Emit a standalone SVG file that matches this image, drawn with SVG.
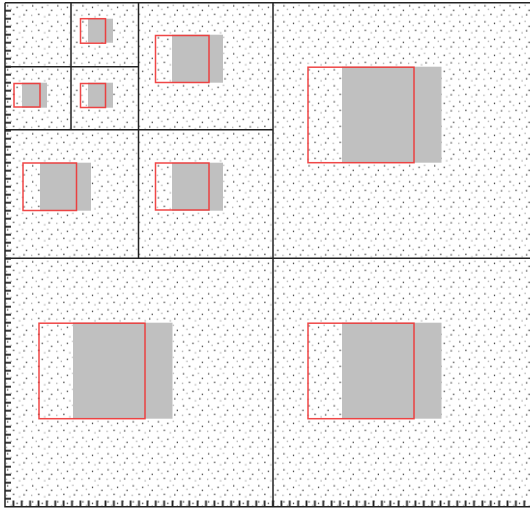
<svg xmlns="http://www.w3.org/2000/svg" width="530" height="509" viewBox="0 0 530 509">
  <style>
    .gray { fill: #c0c0c0; stroke: none; }
    .red { fill: none; stroke: #ee3333; stroke-opacity: 0.9; stroke-width: 1.5; }
    .grid { stroke: #222; stroke-width: 1.5; fill: none; }
    .dk { fill: #111; }
    .lt { fill: #999; }
  </style>
  <defs>
    <pattern id="dots" patternUnits="userSpaceOnUse" x="5" y="2.7" width="25.125" height="16">
      <rect class="dk" x="2" y="2.5" width="1.2" height="1.2"/>
      <rect class="lt" x="5.5" y="6" width="1.2" height="1.2"/>
      <rect class="dk" x="11.5" y="4" width="1.2" height="1.2"/>
      <rect class="lt" x="17" y="2" width="1.2" height="1.2"/>
      <rect class="dk" x="21" y="7" width="1.2" height="1.2"/>
      <rect class="lt" x="1" y="12" width="1.2" height="1.2"/>
      <rect class="dk" x="8" y="11" width="1.2" height="1.2"/>
      <rect class="lt" x="14" y="13.5" width="1.2" height="1.2"/>
      <rect class="dk" x="18.5" y="11.5" width="1.2" height="1.2"/>
    </pattern>
    <pattern id="lticks" patternUnits="userSpaceOnUse" x="0" y="-1.3" width="12" height="8">
      <rect x="5" y="3.1" width="6" height="1.8" fill="#222"/>
    </pattern>
    <pattern id="bticks" patternUnits="userSpaceOnUse" x="0.8125" y="0" width="8.375" height="509">
      <rect x="3.3" y="500.5" width="1.8" height="6" fill="#222"/>
    </pattern>
  </defs>

  <rect x="0" y="0" width="530" height="509" fill="#fff"/>
  <rect id="field" x="5" y="2.7" width="525" height="504" fill="url(#dots)"/>

  <g id="cell-tl-tr">
    <rect class="gray" x="88" y="18.7" width="25" height="24"/>
    <rect class="red" x="80.5" y="18.7" width="25" height="24.5"/>
  </g>
  <g id="cell-tl-bl">
    <rect class="gray" x="22" y="82.7" width="25" height="25"/>
    <rect class="red" x="14" y="83.5" width="26" height="23.5"/>
  </g>
  <g id="cell-tl-br">
    <rect class="gray" x="88" y="82.7" width="25" height="25"/>
    <rect class="red" x="80.5" y="83.5" width="25" height="24"/>
  </g>
  <g id="cell-q1-tr">
    <rect class="gray" x="172" y="34.7" width="51" height="48"/>
    <rect class="red" x="155.5" y="35.5" width="53.5" height="47"/>
  </g>
  <g id="cell-q1-bl">
    <rect class="gray" x="40" y="162.7" width="51" height="48"/>
    <rect class="red" x="23" y="163" width="53.5" height="47.5"/>
  </g>
  <g id="cell-q1-br">
    <rect class="gray" x="172" y="162.7" width="51" height="48"/>
    <rect class="red" x="155.5" y="163" width="53.5" height="47"/>
  </g>
  <g id="cell-q2">
    <rect class="gray" x="342" y="66.7" width="99.5" height="96"/>
    <rect class="red" x="308" y="67.2" width="106" height="95.5"/>
  </g>
  <g id="cell-q3">
    <rect class="gray" x="73" y="322.7" width="99.5" height="96"/>
    <rect class="red" x="39" y="323.2" width="106" height="95.5"/>
  </g>
  <g id="cell-q4">
    <rect class="gray" x="342" y="322.7" width="99.5" height="96"/>
    <rect class="red" x="308" y="323.2" width="106" height="95.5"/>
  </g>

  <g id="connectors">
    <path class="grid" d="M273 2.7V506.7M5 258.3H530M138.5 2.7V258.3M5 129.8H273M71 2.7V129.8M5 66.7H138.5"/>
  </g>

  <g id="axes">
    <rect x="0" y="6" width="12" height="497" fill="url(#lticks)"/>
    <rect x="9" y="498" width="521" height="10" fill="url(#bticks)"/>
    <path class="grid" d="M5 2.7V506.7H530M5 2.7H530"/>
  </g>
</svg>
